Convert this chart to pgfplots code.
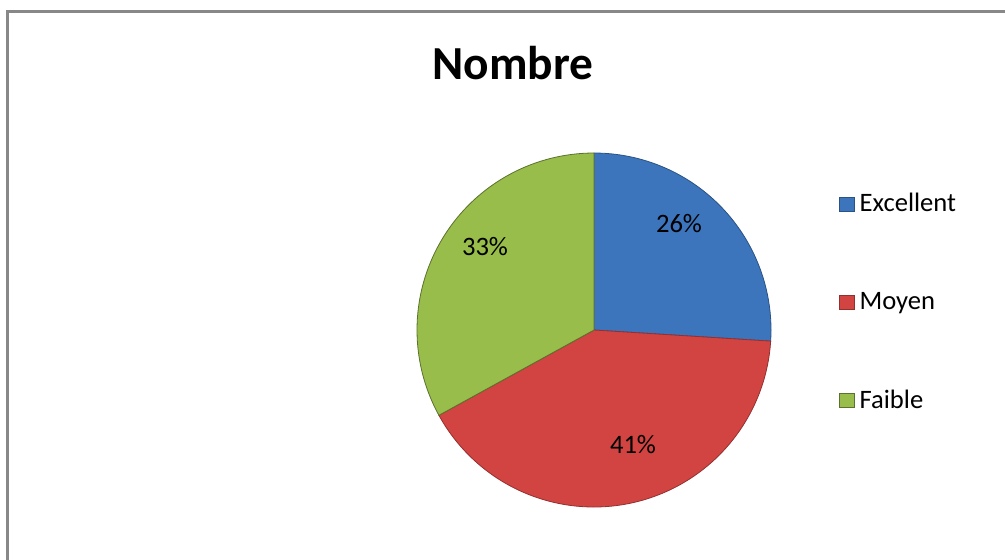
\documentclass[border=0pt]{standalone}
\usepackage{pgfplots}
\pgfplotsset{compat=1.18}
\usepackage{fontspec}
\setmainfont{Carlito}
\definecolor{cBlue}{HTML}{3C75BC}
\definecolor{cRed}{HTML}{D24442}
\definecolor{cGreen}{HTML}{98BD4A}
\definecolor{cFrame}{HTML}{888888}
% values (percent)
\def\vA{26}\def\vB{41}\def\vC{33}
\pgfmathsetmacro{\aA}{90}
\pgfmathsetmacro{\aB}{90-3.6*\vA}
\pgfmathsetmacro{\aC}{\aB-3.6*\vB}
\pgfmathsetmacro{\aD}{\aC-3.6*\vC}
\def\cx{594}\def\cy{330}\def\rr{177}
\begin{document}
\begin{tikzpicture}
\useasboundingbox (0,0) rectangle (502.5pt,279.5pt);
\begin{axis}[
  at={(0,0)}, anchor=south west,
  scale only axis, width=502.5pt, height=279.5pt,
  xmin=0, xmax=1005, ymin=0, ymax=559, y dir=reverse,
  axis lines=none, clip=false,
  legend style={at={(axis cs:833,302.5)}, anchor=west, draw=none, fill=none,
    font=\fontsize{13.3}{16}\selectfont, row sep=34.8pt,
    /tikz/every odd column/.append style={column sep=0.5pt}},
  legend cell align=left,
  legend image code/.code={\draw[#1, line width=0.4pt] (0pt,-3.5pt) rectangle (7.2pt,3.5pt);},
]
\draw[cFrame, line width=1.2pt] (axis cs:7.5,570) -- (axis cs:7.5,11.5) -- (axis cs:1015,11.5);
\addplot[fill=cBlue, draw=cBlue!70!black, line width=0.4pt, domain=\aB:\aA, samples=80, variable=\t]
  ({\cx+\rr*cos(\t)}, {\cy-\rr*sin(\t)}) -- (axis cs:\cx,\cy) -- cycle;
\addlegendentry{Excellent}
\addplot[fill=cRed, draw=cRed!70!black, line width=0.4pt, domain=\aC:\aB, samples=120, variable=\t]
  ({\cx+\rr*cos(\t)}, {\cy-\rr*sin(\t)}) -- (axis cs:\cx,\cy) -- cycle;
\addlegendentry{Moyen}
\addplot[fill=cGreen, draw=cGreen!60!black, line width=0.4pt, domain=\aD:\aC, samples=100, variable=\t]
  ({\cx+\rr*cos(\t)}, {\cy-\rr*sin(\t)}) -- (axis cs:\cx,\cy) -- cycle;
\addlegendentry{Faible}
\node[font=\fontsize{13.3}{16}\selectfont] at (axis cs:679,224) {26\%};
\node[font=\fontsize{13.3}{16}\selectfont] at (axis cs:633,445) {41\%};
\node[font=\fontsize{13.3}{16}\selectfont] at (axis cs:485,247) {33\%};
\node[font=\fontsize{23.7}{28}\selectfont\bfseries] at (axis cs:513,63) {Nombre};
\end{axis}
\end{tikzpicture}
\end{document}
